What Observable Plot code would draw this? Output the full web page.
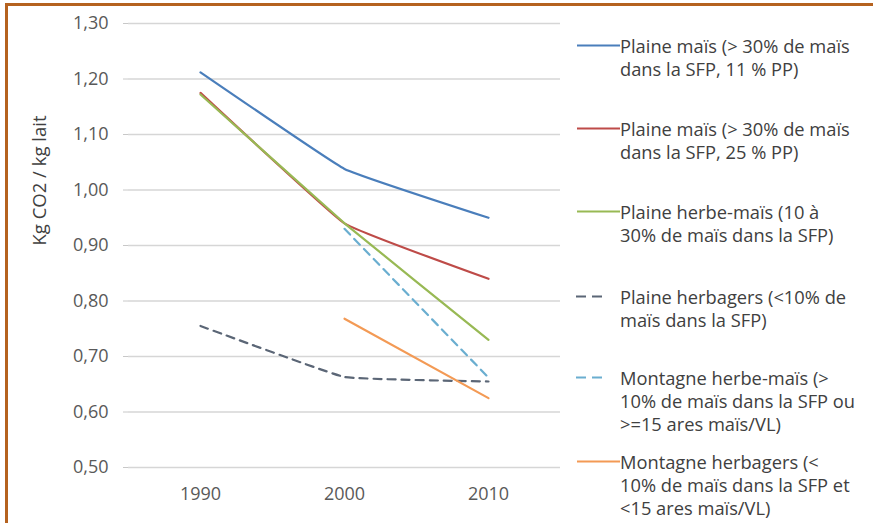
<!DOCTYPE html>
<html>
<head>
<meta charset="utf-8">
<script src="https://cdn.jsdelivr.net/npm/d3@7"></script>
<script src="https://cdn.jsdelivr.net/npm/@observablehq/plot@0.6"></script>
<style>
  html, body { margin: 0; padding: 0; background: #fff; }
  #wrap { position: relative; width: 873px; height: 523px; overflow: hidden; font-family: "Open Sans", sans-serif; background: #fff; }
  #frame { position: absolute; left: 5px; top: 3px; width: 900px; height: 600px; border-left: 3px solid #b5621f; border-top: 3px solid #b5621f; }
  #chart { position: absolute; left: 0; top: 0; }
  #legend { position: absolute; left: 0; top: 0; width: 873px; height: 523px; pointer-events: none; }
  .entry { position: absolute; left: 574px; display: flex; align-items: flex-start; color: #404040; font-size: 18.3px; line-height: 23px; }
  .entry svg { flex: none; margin-top: 0; }
  .entry .txt { white-space: nowrap; }
</style>
</head>
<body>
<div id="wrap">
  <div id="frame"></div>
  <div id="chart"></div>
  <div id="legend"></div>
</div>
<script>
const years = [1990, 2000, 2010];
const seriesNames = [
  "Plaine maïs (> 30% de maïs\ndans la SFP, 11 % PP)",
  "Plaine maïs (> 30% de maïs\ndans la SFP, 25 % PP)",
  "Plaine herbe-maïs  (10 à\n30% de maïs dans la SFP)",
  "Plaine herbagers (<10% de\nmaïs dans la SFP)",
  "Montagne herbe-maïs  (>\n10% de maïs dans la SFP ou\n>=15 ares maïs/VL)",
  "Montagne herbagers (<\n10% de maïs dans la SFP et\n<15 ares maïs/VL)"
];
const plaineMais11 = [1.212, 1.038, 0.950];
const plaineMais25 = [1.175, 0.940, 0.840];
const plaineHerbeMais = [1.172, 0.940, 0.730];
const plaineHerbagers = [0.755, 0.663, 0.655];
const montagneHerbeMais = [null, 0.930, 0.662];
const montagneHerbagers = [null, 0.768, 0.625];
const seriesColors = ["#4a7ebb", "#be4b48", "#98b954", "#5b6676", "#6aaed0", "#f39a55"];
const seriesDashed = [false, false, false, true, true, false];
const yTicks = [0.5, 0.6, 0.7, 0.8, 0.9, 1.0, 1.1, 1.2, 1.3];
const yLabel = "Kg CO2 / kg lait";

const allValues = [plaineMais11, plaineMais25, plaineHerbeMais, plaineHerbagers, montagneHerbeMais, montagneHerbagers];
const rows = [];
allValues.forEach((vals, i) => {
  vals.forEach((v, j) => { if (v != null) rows.push({series: seriesNames[i], year: years[j], value: v}); });
});

const fmt = d => d.toFixed(2).replace(".", ",");
const marks = [
  Plot.gridY(yTicks, {stroke: "#d6d6d6", strokeOpacity: 1, strokeWidth: 1.3}),
  Plot.ruleX([0], {frameAnchor: "left", stroke: "#c8c8c8", strokeWidth: 1.3}),
  Plot.axisY(yTicks, {tickSize: 5, tickPadding: 15, tickFormat: fmt, fontSize: 18, stroke: "#c8c8c8", fill: "#595959", label: null}),
  Plot.axisX(years, {tickSize: 0, tickPadding: 20, tickFormat: d => String(d), fontSize: 18, fill: "#595959", label: null}),
  Plot.text([yLabel], {frameAnchor: "left", dx: -88, rotate: -90, fontSize: 18.5, fill: "#404040"})
];
seriesNames.forEach((name, i) => {
  marks.push(Plot.line(rows.filter(r => r.series === name), {
    x: "year", y: "value", stroke: seriesColors[i], strokeWidth: 2.2,
    strokeDasharray: seriesDashed[i] ? "8,6" : null, curve: "cardinal", tension: 0.75
  }));
});

const chart = Plot.plot({
  width: 580, height: 523,
  marginLeft: 128, marginRight: 20, marginTop: 23, marginBottom: 56,
  style: {fontFamily: "Open Sans, sans-serif", background: "transparent", color: "#595959"},
  x: {type: "point", domain: years, padding: 0.5, axis: null},
  y: {domain: [0.5, 1.3], axis: null},
  marks
});
document.getElementById("chart").appendChild(chart);

// Legend (HTML)
const legendTops = [34, 117, 200, 285, 366, 450];
const legend = document.getElementById("legend");
seriesNames.forEach((name, i) => {
  const e = document.createElement("div");
  e.className = "entry";
  e.style.top = legendTops[i] + "px";
  const w = 46;
  const sw = seriesDashed[i]
    ? `<line x1="2" x2="28" y1="11.5" y2="11.5" stroke="${seriesColors[i]}" stroke-width="2.2" stroke-dasharray="10,6"/>`
    : `<line x1="3" x2="${w}" y1="11.5" y2="11.5" stroke="${seriesColors[i]}" stroke-width="2"/>`;
  e.innerHTML = `<svg width="${w}" height="23">${sw}</svg><div class="txt">${name.split("\n").map(s => s.replace(/&/g,"&amp;").replace(/</g,"&lt;").replace(/>/g,"&gt;")).join("<br>")}</div>`;
  legend.appendChild(e);
});
</script>
</body>
</html>
